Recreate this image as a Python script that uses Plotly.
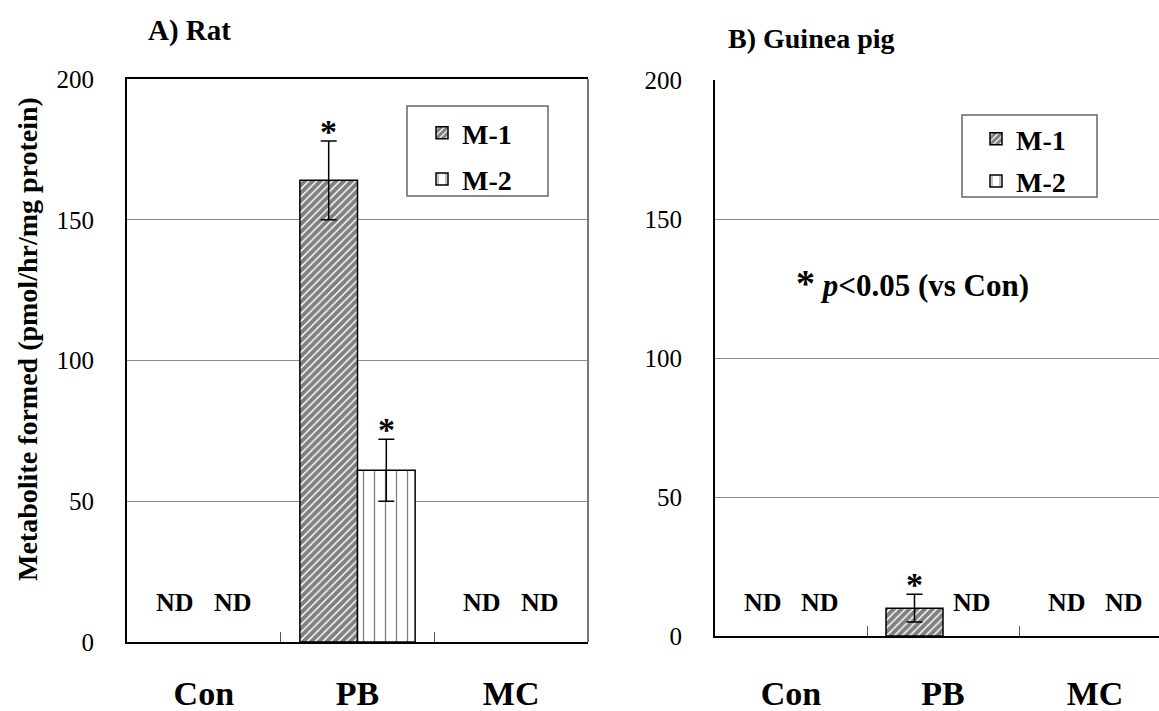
import plotly.graph_objects as go

W, H = 1159, 711
categories = ["Con", "PB", "MC"]
series_names = ["M-1", "M-2"]

# Rat (panel A)
rat_m1 = [None, 164, None]
rat_m1_err = [0, 14, 0]
rat_m2 = [None, 61, None]
rat_m2_err = [0, 11, 0]

# Guinea pig (panel B)
gp_m1 = [None, 10, None]
gp_m1_err = [0, 5, 0]
gp_m2 = [None, None, None]
gp_m2_err = [0, 0, 0]

sig_rat = [[False, True, False], [False, True, False]]
sig_gp = [[False, True, False], [False, False, False]]

y_ticks = [0, 50, 100, 150, 200]

FONT = "Liberation Serif"

def px_x(p):
    return p / W

def px_y(p):
    return 1 - p / H

# panel geometry (pixels)
A_x0, A_x1, A_y0, A_y1 = 127, 588, 79, 642
B_x0, B_x1, B_y0, B_y1 = 715, 1159, 80, 636
B_cat_px = 152.0

pat_m1 = dict(shape="/", size=5.5, solidity=0.72, fgcolor="black", bgcolor="white")
pat_m2 = dict(shape="|", size=11, solidity=0.12, fgcolor="black", bgcolor="white")
line = dict(color="black", width=1.5)
errstyle = dict(type="data", visible=True, color="black", thickness=1.5, width=8)

fig = go.Figure()
def bar(y, err, name, pat, xa, ya, leg, grp):
    fig.add_trace(go.Bar(x=categories, y=y, name="<b>" + name + "</b>", xaxis=xa, yaxis=ya,
                         marker=dict(color="white", pattern=pat, line=line),
                         error_y=dict(array=err, **errstyle),
                         legend=leg, legendgroup=grp))

bar(rat_m1, rat_m1_err, series_names[0], pat_m1, "x", "y", "legend", "a1")
bar(rat_m2, rat_m2_err, series_names[1], pat_m2, "x", "y", "legend", "a2")
bar(gp_m1, gp_m1_err, series_names[0], pat_m1, "x2", "y2", "legend2", "b1")
bar(gp_m2, gp_m2_err, series_names[1], pat_m2, "x2", "y2", "legend2", "b2")

bargap = 0.25
half = (1 - bargap) / 4  # centre offset of each bar in a 2-bar group

annotations = []
def add_panel_marks(xref, yref, m_vals, m_errs, sigs, nd_y):
    for s, (vals, errs) in enumerate(zip(m_vals, m_errs)):
        off = -half if s == 0 else half
        for i, v in enumerate(vals):
            xpos = i + off
            if v is None:
                annotations.append(dict(x=xpos, y=nd_y, xref=xref, yref=yref, text="<b>ND</b>",
                                        showarrow=False, font=dict(family=FONT, size=26, color="black")))
            elif sigs[s][i]:
                annotations.append(dict(x=xpos, y=v + errs[i], xref=xref, yref=yref, text="<b>*</b>",
                                        showarrow=False, yanchor="bottom", yshift=-11,
                                        font=dict(family=FONT, size=34, color="black")))

add_panel_marks("x", "y", [rat_m1, rat_m2], [rat_m1_err, rat_m2_err], sig_rat, 14)
add_panel_marks("x2", "y2", [gp_m1, gp_m2], [gp_m1_err, gp_m2_err], sig_gp, 12)

annotations += [
    dict(x=px_x(146), y=px_y(30), xref="paper", yref="paper", xanchor="left", yanchor="middle",
         text="<b>A) Rat</b>", showarrow=False, font=dict(family=FONT, size=29, color="black")),
    dict(x=px_x(726), y=px_y(38), xref="paper", yref="paper", xanchor="left", yanchor="middle",
         text="<b>B) Guinea pig</b>", showarrow=False, font=dict(family=FONT, size=28, color="black")),
    dict(x=px_x(794), y=px_y(283), xref="paper", yref="paper", xanchor="left", yanchor="middle",
         text="<b><span style='font-size:38px'>*</span> <i>p</i>&lt;0.05 (vs Con)</b>", showarrow=False,
         font=dict(family=FONT, size=31, color="black")),
    dict(x=px_x(28), y=px_y(339), xref="paper", yref="paper", xanchor="center", yanchor="middle",
         textangle=-90, text="<b>Metabolite formed (pmol/hr/mg protein)</b>", showarrow=False,
         font=dict(family=FONT, size=28, color="black")),
]

cat_text = ["<b>Con</b>", "<b>PB</b>", "<b>MC</b>"]
axis_common = dict(showgrid=False, ticks="inside", ticklen=10, tickcolor="#555", tickwidth=1,
                   tickson="boundaries", showline=True, linecolor="black", linewidth=2,
                   tickfont=dict(family=FONT, size=34, color="black"),
                   automargin=False, fixedrange=True)
yaxis_common = dict(range=[0, 200], tickvals=y_ticks, showgrid=True, gridcolor="#8a8a8a", gridwidth=1,
                    zeroline=False, showline=True, linecolor="black", linewidth=2, ticks="",
                    tickfont=dict(family=FONT, size=25, color="black"), ticklabelstandoff=26,
                    automargin=False, fixedrange=True)

fig.update_layout(
    width=W, height=H, margin=dict(l=0, r=0, t=0, b=0, autoexpand=False),
    paper_bgcolor="white", plot_bgcolor="white",
    barmode="group", bargap=bargap, bargroupgap=0,
    xaxis=dict(domain=[px_x(A_x0), px_x(A_x1)], range=[-0.5, 2.5], mirror=True,
               tickvals=categories, ticktext=cat_text, ticklabelstandoff=20, **axis_common),
    yaxis=dict(domain=[px_y(A_y1), px_y(A_y0)], anchor="x", **yaxis_common),
    xaxis2=dict(domain=[px_x(B_x0), px_x(B_x1)], anchor="y2",
                range=[-0.5, -0.5 + (B_x1 - B_x0) / B_cat_px],
                tickvals=categories, ticktext=cat_text, ticklabelstandoff=26, **axis_common),
    yaxis2=dict(domain=[px_y(B_y1), px_y(B_y0)], anchor="x2", **yaxis_common),
    legend=dict(x=px_x(422), y=px_y(108), xanchor="left", yanchor="top", bgcolor="rgba(0,0,0,0)",
                borderwidth=0, tracegroupgap=7, traceorder="grouped",
                font=dict(family=FONT, size=28, color="black")),
    legend2=dict(x=px_x(976), y=px_y(114), xanchor="left", yanchor="top", bgcolor="rgba(0,0,0,0)",
                 borderwidth=0, tracegroupgap=3, traceorder="grouped",
                 font=dict(family=FONT, size=28, color="black")),
    annotations=annotations,
    shapes=[
        dict(type="line", xref="paper", yref="paper", x0=px_x(A_x1), x1=px_x(A_x1),
             y0=px_y(A_y1), y1=px_y(A_y0), line=dict(color="#777", width=2)),
        dict(type="rect", xref="paper", yref="paper", x0=px_x(407), x1=px_x(548),
             y0=px_y(196), y1=px_y(106), line=dict(color="#666", width=1.5)),
        dict(type="rect", xref="paper", yref="paper", x0=px_x(962), x1=px_x(1097),
             y0=px_y(197), y1=px_y(115), line=dict(color="#666", width=1.5)),
    ],
)

fig.write_html("out.html", config={"displayModeBar": False},
               post_script="document.body.style.margin='0';")
